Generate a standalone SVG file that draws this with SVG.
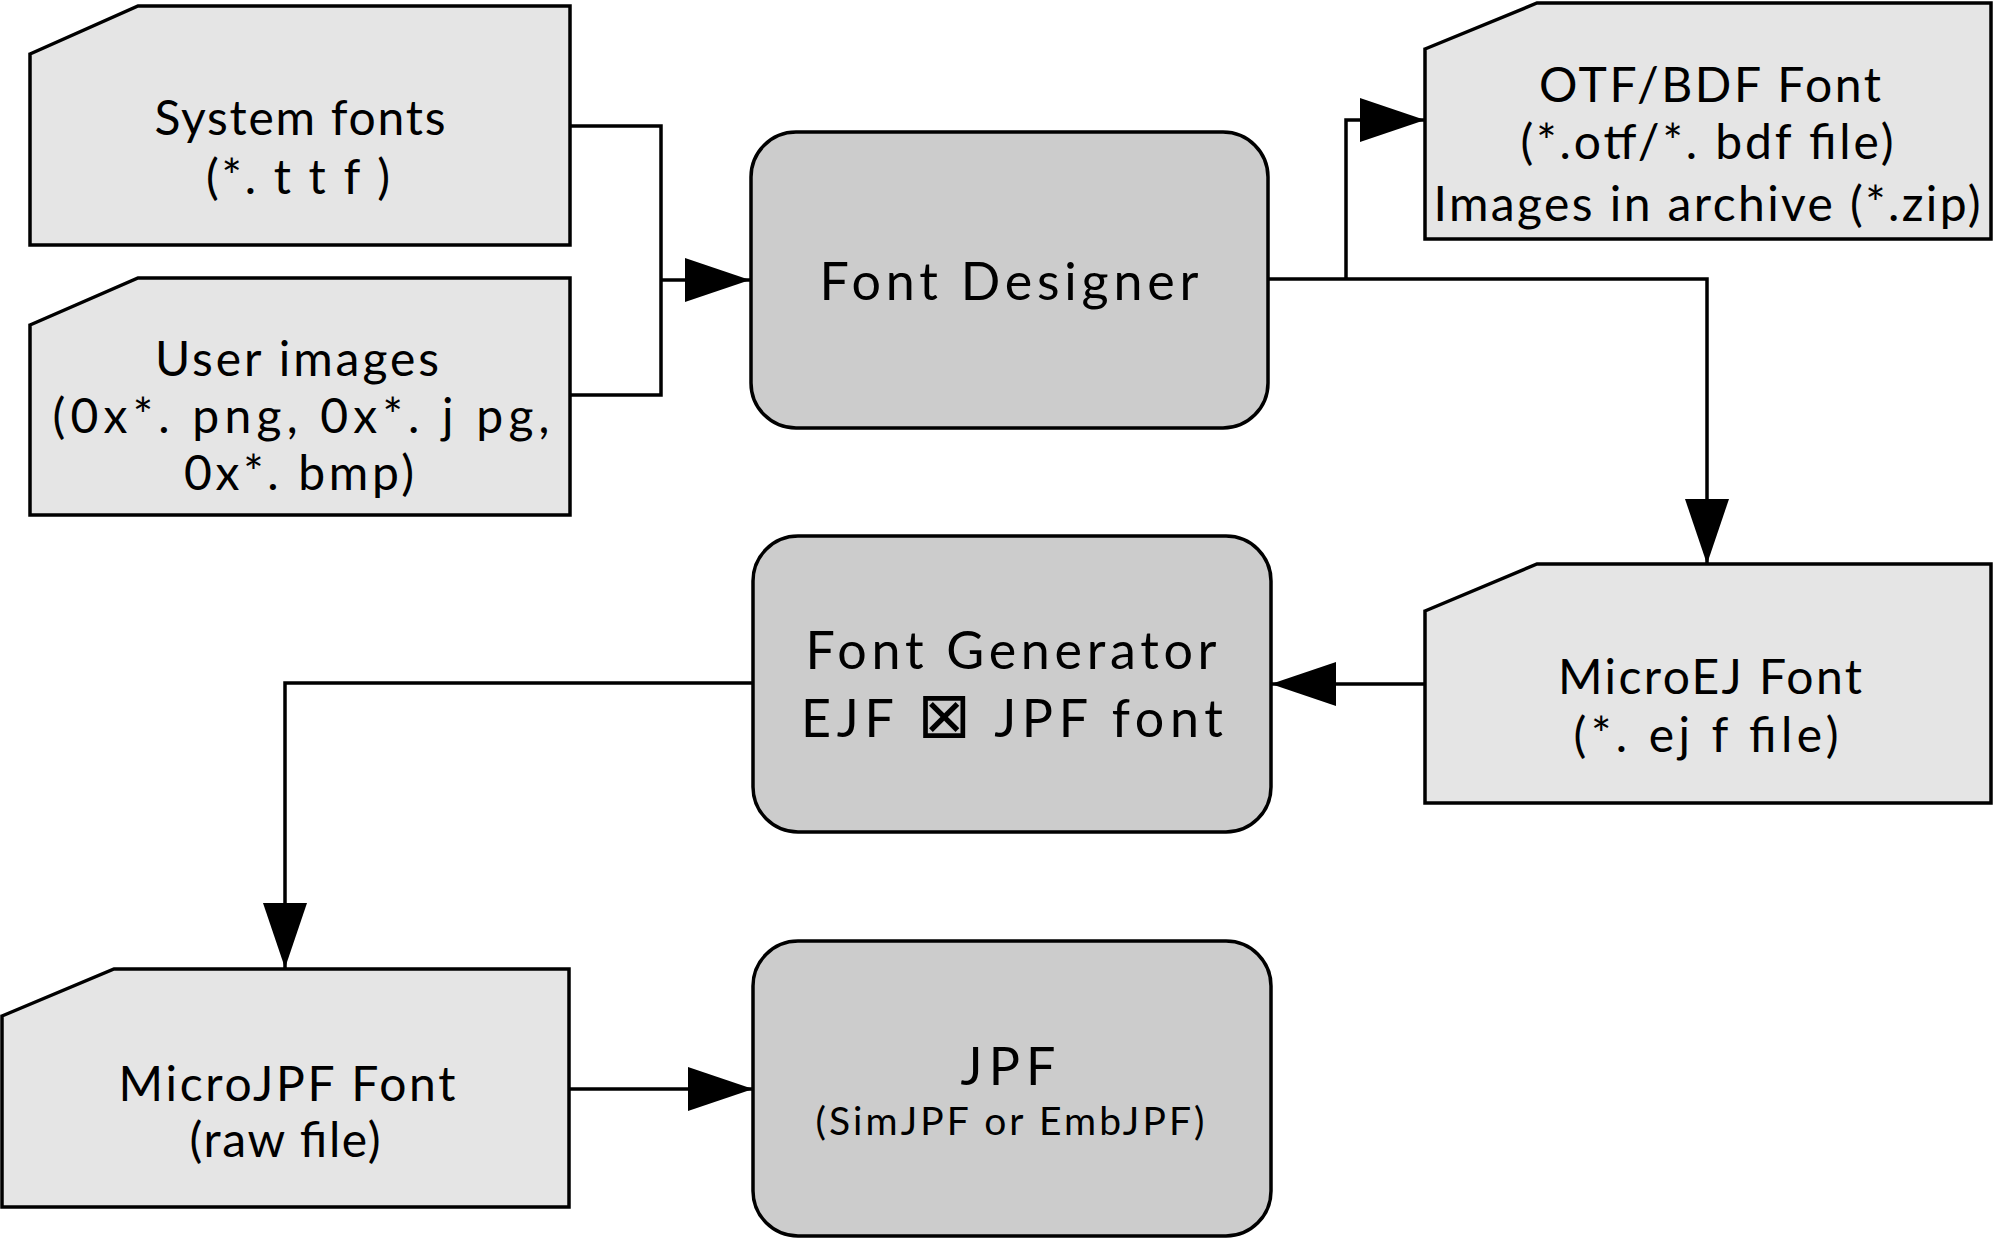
<svg xmlns="http://www.w3.org/2000/svg" width="1996" height="1242" viewBox="0 0 1996 1242">
<style>
.file{fill:#e5e5e5;stroke:#000;stroke-width:3.5;stroke-linejoin:miter}
.proc{fill:#cccccc;stroke:#000;stroke-width:3.5}
text{font-family:Lato,"DejaVu Sans",sans-serif;fill:#000;text-anchor:middle}
.t{font-size:48px}
.tb{font-size:52px}
.ts{font-size:39px}
.con{fill:none;stroke:#000;stroke-width:3.5}
</style>
<defs>
<marker id="ah" viewBox="0 0 65 44" refX="65" refY="22" markerWidth="65" markerHeight="44" markerUnits="userSpaceOnUse" orient="auto">
<path d="M0,0 L65,22 L0,44 Z" fill="#000"/>
</marker>
</defs>
<rect width="1996" height="1242" fill="#fff"/>
<g id="connectors">
<path class="con" d="M570,126 H661 V395 H570"/>
<path class="con" d="M661,280 H750" marker-end="url(#ah)"/>
<path class="con" d="M1268,279 H1707 V564" marker-end="url(#ah)"/>
<path class="con" d="M1346,279 V120 H1425" marker-end="url(#ah)"/>
<path class="con" d="M1425,684 H1271" marker-end="url(#ah)"/>
<path class="con" d="M753,683 H285 V968" marker-end="url(#ah)"/>
<path class="con" d="M569,1089 H753" marker-end="url(#ah)"/>
</g>
<g id="system-fonts">
<polygon class="file" points="30,54 138,6 570,6 570,245 30,245"/>
<text class="t" x="300" y="135" textLength="291">System fonts</text>
<text class="t" x="298" y="194" textLength="184">(*. t t f )</text>
</g>
<g id="user-images">
<polygon class="file" points="30,325 138,278 570,278 570,515 30,515"/>
<text class="t" x="297" y="376" textLength="284">User images</text>
<text class="t" x="301" y="433" textLength="497">(0x*. png, 0x*. j pg,</text>
<text class="t" x="299" y="490" textLength="230">0x*. bmp)</text>
</g>
<g id="font-designer">
<rect class="proc" x="751" y="132" width="517" height="296" rx="45" ry="45"/>
<text class="tb" x="1009" y="300" textLength="379">Font Designer</text>
</g>
<g id="otf-bdf-font">
<polygon class="file" points="1425,49 1537,3 1991,3 1991,239 1425,239"/>
<text class="t" x="1710" y="102" textLength="342">OTF/BDF Font</text>
<text class="t" x="1707" y="159" textLength="373">(*.otf/*. bdf  file)</text>
<text class="t" x="1707" y="221" textLength="547">Images in archive (*.zip)</text>
</g>
<g id="font-generator">
<rect class="proc" x="753" y="536" width="518" height="296" rx="45" ry="45"/>
<text class="tb" x="1011" y="669" textLength="411">Font Generator</text>
<text class="tb" x="1012" y="737" textLength="422">EJF <tspan font-size="64px">⊠</tspan>  JPF font</text>
</g>
<g id="microej-font">
<polygon class="file" points="1425,611 1537,564 1991,564 1991,803 1425,803"/>
<text class="t" x="1710" y="694" textLength="304">MicroEJ Font</text>
<text class="t" x="1706" y="752" textLength="265">(*. ej f  file)</text>
</g>
<g id="microjpf-font">
<polygon class="file" points="2,1016 114,969 569,969 569,1207 2,1207"/>
<text class="t" x="287" y="1101" textLength="337">MicroJPF Font</text>
<text class="t" x="285" y="1157" textLength="191">(raw file)</text>
</g>
<g id="jpf">
<rect class="proc" x="753" y="941" width="518" height="295" rx="45" ry="45"/>
<text class="tb" x="1008" y="1085" textLength="95">JPF</text>
<text class="ts" x="1010" y="1135" textLength="389">(SimJPF or EmbJPF)</text>
</g>
</svg>
